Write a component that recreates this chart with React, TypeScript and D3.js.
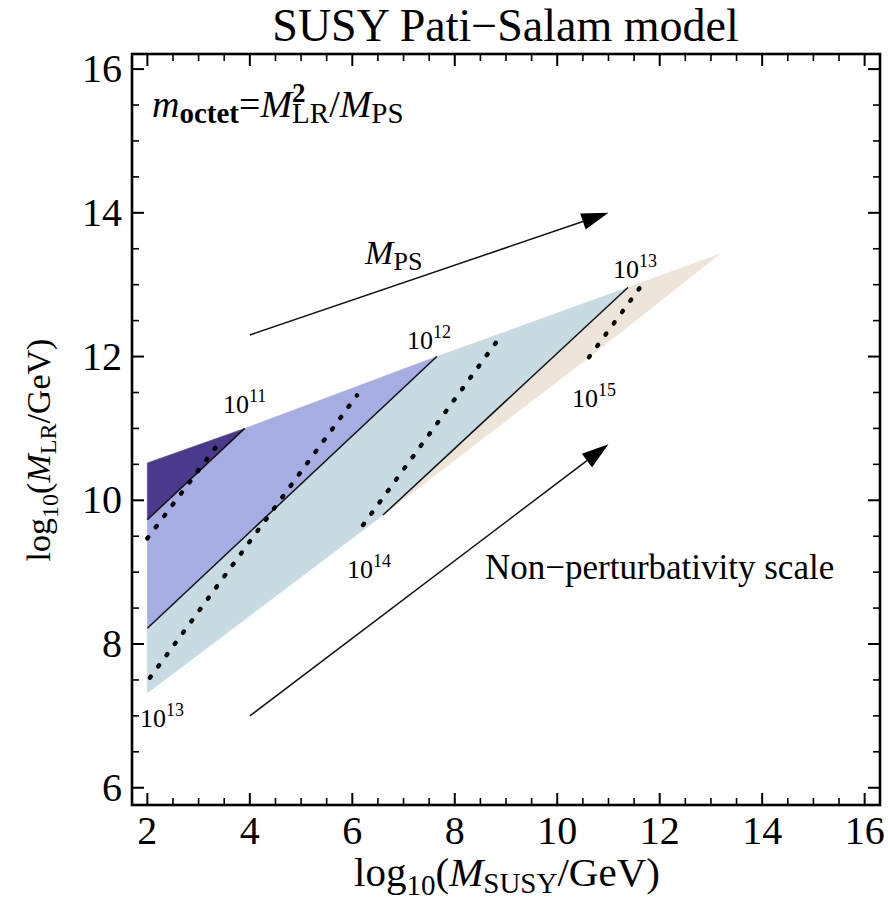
import React from "react";
import * as d3 from "d3";

const WIDTH = 888;
const HEIGHT = 916;
const FONT = "Liberation Serif, Tinos, Times New Roman, DejaVu Serif, serif";

// axis ranges and ticks
const xDomain: [number, number] = [1.7, 16.3];
const yDomain: [number, number] = [5.76, 16.21];
const xTickLabels = [2, 4, 6, 8, 10, 12, 14, 16];
const yTickLabels = [6, 8, 10, 12, 14, 16];
const xMinorTicks = [2.5, 3, 3.5, 4.5, 5, 5.5, 6.5, 7, 7.5, 8.5, 9, 9.5, 10.5, 11, 11.5, 12.5, 13, 13.5, 14.5, 15, 15.5];
const yMinorTicks = [6.5, 7, 7.5, 8.5, 9, 9.5, 10.5, 11, 11.5, 12.5, 13, 13.5, 14.5, 15, 15.5];

// shaded regions (log10 M_SUSY, log10 M_LR)
const regionDark: [number, number][] = [[2, 10.52], [3.9, 11.0], [2, 9.73]];
const regionMedium: [number, number][] = [[2, 9.73], [3.9, 11.0], [7.65, 12.0], [2, 8.22]];
const regionLight: [number, number][] = [[2, 8.22], [7.65, 12.0], [11.38, 12.96], [6.6, 9.795], [2, 7.32]];
const regionBeige: [number, number][] = [[6.6, 9.795], [11.38, 12.96], [13.18, 13.43], [10.62, 11.99]];
const regionColors = ["#4b3a8c", "#a6ade2", "#c8dbe3", "#ede5d9"];

// contour lines
const solidLines: [number, number][][] = [
  [[2, 9.73], [3.9, 11.0]],
  [[2, 8.22], [7.65, 12.0]],
  [[6.6, 9.795], [11.38, 12.96]],
];
const dottedLines: [number, number][][] = [
  [[2.0, 9.47], [3.36, 10.76]],
  [[2.05, 7.53], [6.09, 11.46]],
  [[6.21, 9.656], [8.94, 12.327]],
  [[10.62, 11.99], [11.635, 12.98]],
];

// contour labels 10^exp, anchored at left/baseline
const labelExponents = ["11", "12", "13", "14", "15", "13"];
const labelX = [3.476, 7.068, 11.089, 5.897, 10.289, 1.856];
const labelY = [11.214, 12.105, 13.093, 8.918, 11.298, 6.845];

// arrows
const arrowFrom: [number, number][] = [[4, 12.3], [4, 7.0]];
const arrowTo: [number, number][] = [[11.0, 14.0], [11.0, 10.78]];

export default function App() {
  const left = 132, right = 880, top = 54, bottom = 805;
  const x = d3.scaleLinear().domain(xDomain).range([left, right]);
  const y = d3.scaleLinear().domain(yDomain).range([bottom, top]);
  const line = d3.line<[number, number]>().x((d) => x(d[0])).y((d) => y(d[1]));
  const poly = (pts: [number, number][]) => line(pts)! + "Z";
  const regions = [regionDark, regionMedium, regionLight, regionBeige];
  const tf = { fontFamily: FONT } as React.CSSProperties;

  const arrows = arrowFrom.map((f, i) => {
    const t = arrowTo[i];
    const x1 = x(f[0]), y1 = y(f[1]), x2 = x(t[0]), y2 = y(t[1]);
    const len = Math.hypot(x2 - x1, y2 - y1);
    const ux = (x2 - x1) / len, uy = (y2 - y1) / len;
    const L = 27, hw = 8.5;
    const bx = x2 - ux * L, by = y2 - uy * L;
    const nx = -uy, ny = ux;
    return { x1, y1, bx, by, head: `${x2},${y2} ${bx + nx * hw},${by + ny * hw} ${bx - nx * hw},${by - ny * hw}` };
  });

  return (
    <svg width={WIDTH} height={HEIGHT} style={{ position: "absolute", left: 0, top: 0, background: "#fff", fontFamily: FONT }}>
      <rect x={0} y={0} width={WIDTH} height={HEIGHT} fill="#fff" />
      {regions.map((r, i) => (
        <path key={i} d={poly(r)} fill={regionColors[i]} stroke={regionColors[i]} strokeWidth={0.6} />
      ))}
      {solidLines.map((l, i) => (
        <path key={i} d={line(l)!} stroke="#111" strokeWidth={1.5} fill="none" />
      ))}
      {dottedLines.map((l, i) => (
        <path key={i} d={line(l)!} stroke="#000" strokeWidth={4.4} strokeLinecap="round" strokeDasharray="1.4 12.6" fill="none" />
      ))}
      {labelExponents.map((e, i) => (
        <text key={i} x={x(labelX[i])} y={y(labelY[i])} fontSize={26} fill="#000" style={tf}>
          10<tspan fontSize={18} dy={-11}>{e}</tspan>
        </text>
      ))}
      {arrows.map((a, i) => (
        <g key={i}>
          <line x1={a.x1} y1={a.y1} x2={a.bx} y2={a.by} stroke="#111" strokeWidth={1.5} />
          <polygon points={a.head} fill="#000" />
        </g>
      ))}
      {/* annotations */}
      <text x={x(2.09)} y={y(15.33)} fontSize={38} style={tf}>
        <tspan fontStyle="italic">m</tspan>
        <tspan fontSize={29} fontWeight="bold" dy={6}>octet</tspan>
        <tspan dy={-6}>=</tspan>
        <tspan fontStyle="italic">M</tspan>
        <tspan fontSize={27} fontWeight="bold" dy={-15}>2</tspan>
        <tspan fontSize={29} dx={-13.5} dy={21}>LR</tspan>
        <tspan dy={-6}>/</tspan>
        <tspan fontStyle="italic">M</tspan>
        <tspan fontSize={29} dy={6}>PS</tspan>
      </text>
      <text x={x(6.25)} y={y(13.29)} fontSize={34} style={tf}>
        <tspan fontStyle="italic">M</tspan>
        <tspan fontSize={26} dy={6}>PS</tspan>
      </text>
      <text x={x(8.59)} y={y(8.905)} fontSize={35} style={tf}>Non−perturbativity scale</text>
      {/* title */}
      <text x={505.5} y={41} textAnchor="middle" fontSize={46} style={tf}>SUSY Pati−Salam model</text>
      {/* frame */}
      <rect x={left} y={top} width={right - left} height={bottom - top} fill="none" stroke="#000" strokeWidth={2.6} />
      {xTickLabels.map((t) => (
        <g key={"xt" + t}>
          <line x1={x(t)} x2={x(t)} y1={bottom} y2={bottom - 12} stroke="#000" strokeWidth={2} />
          <line x1={x(t)} x2={x(t)} y1={top} y2={top + 12} stroke="#000" strokeWidth={2} />
          <text x={x(t)} y={bottom + 39} textAnchor="middle" fontSize={40} style={tf}>{t}</text>
        </g>
      ))}
      {xMinorTicks.map((t) => (
        <g key={"xm" + t}>
          <line x1={x(t)} x2={x(t)} y1={bottom} y2={bottom - 7} stroke="#000" strokeWidth={1.6} />
          <line x1={x(t)} x2={x(t)} y1={top} y2={top + 7} stroke="#000" strokeWidth={1.6} />
        </g>
      ))}
      {yTickLabels.map((t) => (
        <g key={"yt" + t}>
          <line x1={left} x2={left + 12} y1={y(t)} y2={y(t)} stroke="#000" strokeWidth={2} />
          <line x1={right} x2={right - 12} y1={y(t)} y2={y(t)} stroke="#000" strokeWidth={2} />
          <text x={left - 10} y={y(t) + 13} textAnchor="end" fontSize={40} style={tf}>{t}</text>
        </g>
      ))}
      {yMinorTicks.map((t) => (
        <g key={"ym" + t}>
          <line x1={left} x2={left + 7} y1={y(t)} y2={y(t)} stroke="#000" strokeWidth={1.6} />
          <line x1={right} x2={right - 7} y1={y(t)} y2={y(t)} stroke="#000" strokeWidth={1.6} />
        </g>
      ))}
      {/* axis labels */}
      <text x={507} y={886} textAnchor="middle" fontSize={41} style={tf}>
        log<tspan fontSize={29} dy={9}>10</tspan>
        <tspan dy={-9}>(</tspan>
        <tspan fontStyle="italic">M</tspan>
        <tspan fontSize={29} dy={7}>SUSY</tspan>
        <tspan dy={-7}>/GeV)</tspan>
      </text>
      <text transform="translate(50,450) rotate(-90)" textAnchor="middle" fontSize={34} style={tf}>
        log<tspan fontSize={24} dy={8}>10</tspan>
        <tspan dy={-8}>(</tspan>
        <tspan fontStyle="italic">M</tspan>
        <tspan fontSize={24} dy={6}>LR</tspan>
        <tspan dy={-6}>/GeV)</tspan>
      </text>
    </svg>
  );
}
